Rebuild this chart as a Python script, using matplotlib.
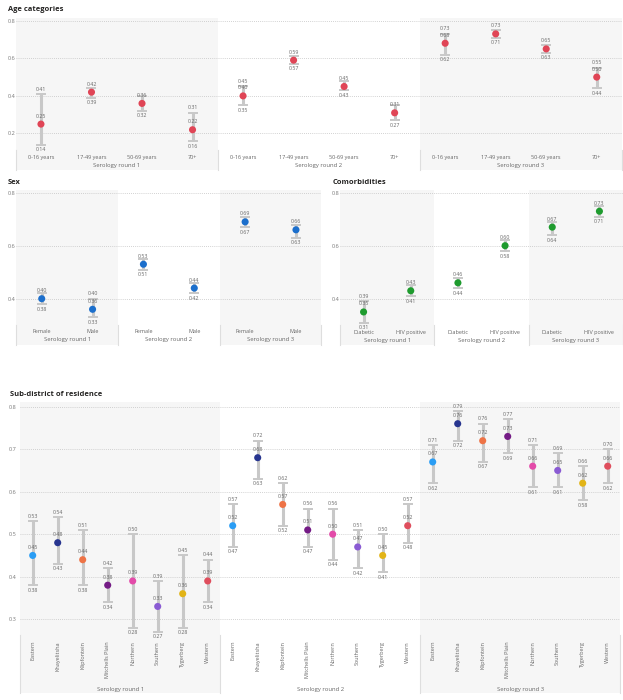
import numpy as np
import matplotlib
matplotlib.use("Agg")
import matplotlib.pyplot as plt
from matplotlib.patches import Rectangle
from matplotlib.transforms import blended_transform_factory

plt.rcParams['font.family'] = ['Open Sans', 'DejaVu Sans']

rounds = ["Serology round 1", "Serology round 2", "Serology round 3"]

# age categories, 3 rounds x 4 categories
age_cats = ["0-16 years", "17-49 years", "50-69 years", "70+"]
age_pt = [0.25, 0.42, 0.36, 0.22, 0.40, 0.59, 0.45, 0.31, 0.68, 0.73, 0.65, 0.50]
age_lo = [0.14, 0.39, 0.32, 0.16, 0.35, 0.57, 0.43, 0.27, 0.62, 0.71, 0.63, 0.44]
age_hi = [0.41, 0.44, 0.40, 0.31, 0.45, 0.61, 0.48, 0.35, 0.73, 0.75, 0.67, 0.55]

sex_cats = ["Female", "Male"]
sex_pt = [0.40, 0.36, 0.53, 0.44, 0.69, 0.66]
sex_lo = [0.38, 0.33, 0.51, 0.42, 0.67, 0.63]
sex_hi = [0.42, 0.40, 0.55, 0.46, 0.71, 0.68]

com_cats = ["Diabetic", "HIV positive"]
com_pt = [0.35, 0.43, 0.46, 0.60, 0.67, 0.73]
com_lo = [0.31, 0.41, 0.44, 0.58, 0.64, 0.71]
com_hi = [0.39, 0.45, 0.48, 0.62, 0.69, 0.75]

sub_cats = ["Eastern", "Khayelitsha", "Klipfontein", "Mitchells Plain",
            "Northern", "Southern", "Tygerberg", "Western"]
sub_pt = [0.45, 0.48, 0.44, 0.38, 0.39, 0.33, 0.36, 0.39,
          0.52, 0.68, 0.57, 0.51, 0.50, 0.47, 0.45, 0.52,
          0.67, 0.76, 0.72, 0.73, 0.66, 0.65, 0.62, 0.66]
sub_lo = [0.38, 0.43, 0.38, 0.34, 0.28, 0.27, 0.28, 0.34,
          0.47, 0.63, 0.52, 0.47, 0.44, 0.42, 0.41, 0.48,
          0.62, 0.72, 0.67, 0.69, 0.61, 0.61, 0.58, 0.62]
sub_hi = [0.53, 0.54, 0.51, 0.42, 0.50, 0.39, 0.45, 0.44,
          0.57, 0.72, 0.62, 0.56, 0.56, 0.51, 0.50, 0.57,
          0.71, 0.79, 0.76, 0.77, 0.71, 0.69, 0.66, 0.70]
sub_colors = ["#2a9df4", "#27358f", "#ee7346", "#741b85",
              "#e34ba9", "#8a5bd3", "#e2b417", "#df4e5d"]

W, H = 623, 700
fig = plt.figure(figsize=(W / 100, H / 100), dpi=100)

GRAY = "#666666"


def px_axes(left, right, y08, scale, ymin, ymax):
    top = y08 - (ymax - 0.8) * scale
    bottom = y08 + (0.8 - ymin) * scale
    ax = fig.add_axes([left / W, 1 - bottom / H, (right - left) / W, (bottom - top) / H])
    ax.set_ylim(ymin, ymax)
    return ax


def panel(ax, cats, pt, lo, hi, colors, yticks, band_top, band_bottom,
          cat_y, grp_y, pad=0.5, rotate=False):
    n = len(cats)
    x = np.arange(n * 3)
    ax.set_xlim(-0.5, n * 3 - 0.5)
    ax.set_facecolor('none')
    for s in ax.spines.values():
        s.set_visible(False)
    ax.set_xticks([])
    ax.set_yticks(yticks)
    ax.set_yticklabels([f"{v:.1f}" for v in yticks])
    ax.tick_params(axis='y', length=0, pad=pad, labelsize=4, labelcolor="#777777")
    for v in yticks:
        ax.axhline(v, color="#c4c4c4", lw=0.6, ls=(0, (1, 1.5)), zorder=1)

    tr = blended_transform_factory(ax.transData, fig.transFigure)
    y0 = ax.get_position().y0
    for g in range(3):
        x0 = g * n - 0.5
        if g != 1:
            ax.add_patch(Rectangle((x0, 1 - band_bottom / H), n, (band_bottom - band_top) / H,
                                   transform=tr, color="#f6f6f6", lw=0, zorder=0, clip_on=False))
        ax.text(x0 + n / 2, 1 - grp_y / H, rounds[g], transform=tr, ha='center', va='center',
                fontsize=4.2, color=GRAY)
        for i, c in enumerate(cats):
            if rotate:
                ax.text(g * n + i, 1 - cat_y / H, c, transform=tr, rotation=90,
                        ha='center', va='top', fontsize=4, color=GRAY)
            else:
                ax.text(g * n + i, 1 - cat_y / H, c, transform=tr, ha='center', va='center',
                        fontsize=4, color=GRAY)
    for g in range(4):
        ax.plot([g * n - 0.5] * 2, [y0, 1 - band_bottom / H], transform=tr,
                color="#dedede", lw=0.8, clip_on=False, zorder=0)

    pt, lo, hi = np.array(pt), np.array(lo), np.array(hi)
    ax.errorbar(x, pt, yerr=[pt - lo, hi - pt], fmt='none', ecolor="#c8c8c8",
                elinewidth=2.2, capsize=3.3, capthick=1.4, zorder=2)
    ax.scatter(x, pt, s=26, c=colors, zorder=3, linewidths=0)

    for xi, p, l, h in zip(x, pt, lo, hi):
        dy = ax.transData.transform((0, h))[1] - ax.transData.transform((0, p))[1]
        # upper label hidden when it would collide with the point label
        if dy >= 8.5:
            ax.annotate(f"{h:.2f}", (xi, h), xytext=(0, 3.5), textcoords='offset points',
                        ha='center', va='center', fontsize=3.8, color=GRAY, zorder=4)
        ax.annotate(f"{p:.2f}", (xi, p), xytext=(0, 5.8), textcoords='offset points',
                    ha='center', va='center', fontsize=3.8, color=GRAY, zorder=4)
        ax.annotate(f"{l:.2f}", (xi, l), xytext=(0, -3.6), textcoords='offset points',
                    ha='center', va='center', fontsize=3.8, color=GRAY, zorder=4)


def title(x, y, s):
    fig.text(x / W, 1 - y / H, s, ha='left', va='center', fontsize=5.4,
             fontweight='bold', color="#252423")


# Age categories
ax1 = px_axes(15.7, 622, 20.7, 188, 0.11, 0.815)
panel(ax1, age_cats, age_pt, age_lo, age_hi, ["#e04556"] * 12, [0.2, 0.4, 0.6, 0.8],
      18, 170, 157.3, 165.7)
title(8, 9.3, "Age categories")

# Sex
ax2 = px_axes(16.3, 321.4, 192.7, 265, 0.30, 0.81)
panel(ax2, sex_cats, sex_pt, sex_lo, sex_hi, ["#1c6fcc"] * 6, [0.4, 0.6, 0.8],
      190, 345, 331.5, 339.5)
title(8, 182.7, "Sex")

# Comorbidities
ax3 = px_axes(340, 623, 192.7, 265, 0.30, 0.81)
panel(ax3, com_cats, com_pt, com_lo, com_hi, ["#1e9b2e"] * 6, [0.4, 0.6, 0.8],
      190, 345, 332.5, 340.5)
title(333, 182.7, "Comorbidities")

# Sub-district of residence
ax4 = px_axes(20.2, 620.2, 406.7, 425, 0.263, 0.812)
panel(ax4, sub_cats, sub_pt, sub_lo, sub_hi, sub_colors * 3,
      [0.3, 0.4, 0.5, 0.6, 0.7, 0.8], 401.7, 693, 641, 689, pad=2.5, rotate=True)
title(10, 395, "Sub-district of residence")

fig.savefig("out.png", dpi=100)
